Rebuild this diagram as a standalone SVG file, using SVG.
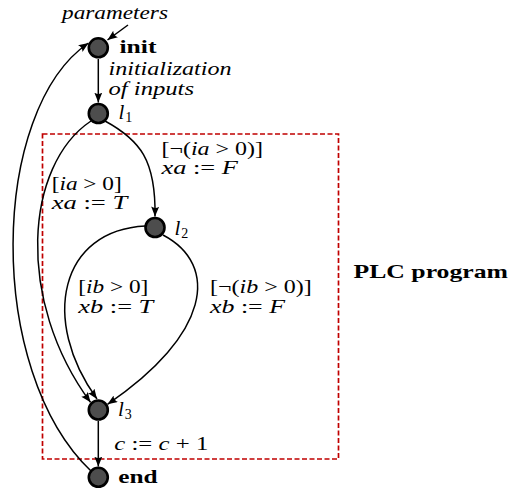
<svg xmlns="http://www.w3.org/2000/svg" width="509" height="489" viewBox="0 0 509 489">
<style>
  .t { font-family: "Liberation Serif", "Times New Roman", serif; font-size: 19px; fill: #000; }
  .it { font-style: italic; }
  .b { font-weight: bold; }
  .lab { font-size: 21px; }
  .sub { font-size: 14px; font-style: normal; }
  .node { fill: #4d4d4d; stroke: #000; stroke-width: 2.6; }
  .edge { fill: none; stroke: #000; stroke-width: 1.5; marker-end: url(#arr); }
  .box { fill: none; stroke: #c00000; stroke-width: 1.7; stroke-dasharray: 5 2.5; }
</style>
<defs>
  <marker id="arr" markerUnits="userSpaceOnUse" markerWidth="11" markerHeight="9" refX="10" refY="4" orient="auto">
    <path d="M0,0 L10,4 L0,8 Q2.8,4 0,0 z" fill="#000"/>
  </marker>
</defs>
<rect id="plc-box" class="box" x="42.5" y="134" width="296" height="325"/>
<text class="t b" x="353.5" y="277.5" textLength="154.5" lengthAdjust="spacingAndGlyphs">PLC program</text>

<g id="connectors">
  <path class="edge" d="M128,25 L107.5,40"/>
  <path class="edge" d="M98.3,59 L98.3,102.5"/>
  <path class="edge" d="M105,121 C140,140 156,160 155,216.5"/>
  <path class="edge" d="M91,121 C25,165 15,300 90.5,402.3"/>
  <path class="edge" d="M145.5,226 C60,230 40,320 97,399"/>
  <path class="edge" d="M163,235 C220,265 210,335 107.5,404.3"/>
  <path class="edge" d="M98.3,421 L98.3,466.5"/>
  <path class="edge" d="M91,471 C-15,370 -10,110 88.5,43"/>
</g>

<g id="edge-labels">
  <text class="t it" x="62" y="18.5" textLength="106" lengthAdjust="spacingAndGlyphs">parameters</text>
  <text class="t it" x="108.5" y="74.5" textLength="123" lengthAdjust="spacingAndGlyphs">initialization</text>
  <text class="t it" x="108.5" y="94.5" textLength="85.5" lengthAdjust="spacingAndGlyphs">of inputs</text>
  <text class="t" x="161.5" y="154.5" textLength="101.5" lengthAdjust="spacingAndGlyphs">[¬(<tspan class="it">ia</tspan> &gt; 0)]</text>
  <text class="t" x="161.5" y="174.3" textLength="76.5" lengthAdjust="spacingAndGlyphs"><tspan class="it">xa</tspan> := <tspan class="it">F</tspan></text>
  <text class="t" x="51.7" y="189.5" textLength="70" lengthAdjust="spacingAndGlyphs">[<tspan class="it">ia</tspan> &gt; 0]</text>
  <text class="t" x="51.7" y="209.3" textLength="75.5" lengthAdjust="spacingAndGlyphs"><tspan class="it">xa</tspan> := <tspan class="it">T</tspan></text>
  <text class="t" x="78.3" y="293.3" textLength="70" lengthAdjust="spacingAndGlyphs">[<tspan class="it">ib</tspan> &gt; 0]</text>
  <text class="t" x="78.3" y="313.3" textLength="75" lengthAdjust="spacingAndGlyphs"><tspan class="it">xb</tspan> := <tspan class="it">T</tspan></text>
  <text class="t" x="210" y="293.3" textLength="101.7" lengthAdjust="spacingAndGlyphs">[¬(<tspan class="it">ib</tspan> &gt; 0)]</text>
  <text class="t" x="210" y="313.3" textLength="75" lengthAdjust="spacingAndGlyphs"><tspan class="it">xb</tspan> := <tspan class="it">F</tspan></text>
  <text class="t" x="114.3" y="450" textLength="94" lengthAdjust="spacingAndGlyphs"><tspan class="it">c</tspan> := <tspan class="it">c</tspan> + 1</text>
</g>

<g id="init">
  <circle class="node" cx="98.3" cy="47.8" r="9.5"/>
  <text class="t b" x="119.5" y="53" textLength="37" lengthAdjust="spacingAndGlyphs">init</text>
</g>
<g id="l1">
  <circle class="node" cx="98.3" cy="113.5" r="9.5"/>
  <text class="t it lab" x="118.5" y="118.5">l<tspan class="sub" dx="1" dy="3.5">1</tspan></text>
</g>
<g id="l2">
  <circle class="node" cx="155" cy="227.5" r="9.5"/>
  <text class="t it lab" x="174.5" y="234.5">l<tspan class="sub" dx="1" dy="3.5">2</tspan></text>
</g>
<g id="l3">
  <circle class="node" cx="98.3" cy="410" r="9.5"/>
  <text class="t it lab" x="118" y="415.5">l<tspan class="sub" dx="1" dy="3.5">3</tspan></text>
</g>
<g id="end">
  <circle class="node" cx="98.3" cy="477.3" r="9.5"/>
  <text class="t b" x="118.3" y="482.5" textLength="39.4" lengthAdjust="spacingAndGlyphs">end</text>
</g>
</svg>
